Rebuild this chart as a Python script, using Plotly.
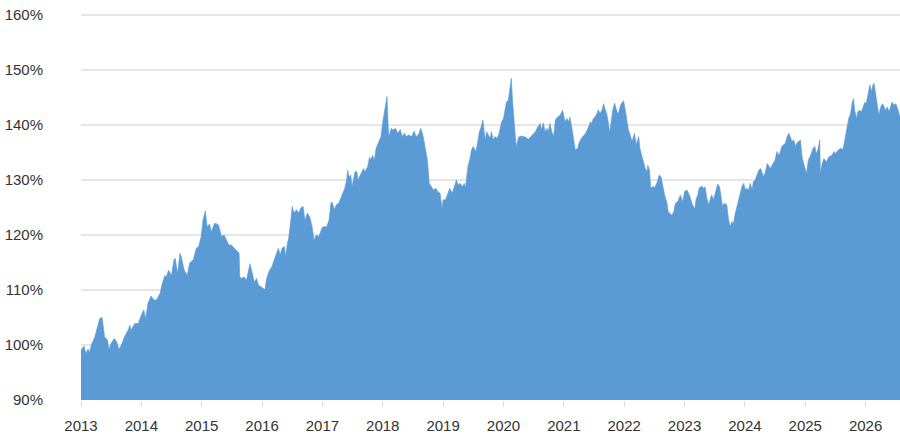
import plotly.graph_objects as go

# Decimal-year positions and index values (%)
years = [
    2013.00, 2013.05, 2013.08, 2013.12, 2013.14, 2013.17, 2013.23, 2013.27, 2013.31, 2013.35,
    2013.36, 2013.39, 2013.44, 2013.46, 2013.50, 2013.55, 2013.59, 2013.63, 2013.67, 2013.72,
    2013.78, 2013.81, 2013.83, 2013.89, 2013.95, 2013.99, 2014.04, 2014.07, 2014.11, 2014.16,
    2014.21, 2014.25, 2014.31, 2014.34, 2014.39, 2014.41, 2014.45, 2014.50, 2014.54, 2014.56,
    2014.60, 2014.64, 2014.66, 2014.71, 2014.76, 2014.80, 2014.86, 2014.91, 2014.95, 2014.99,
    2015.01, 2015.02, 2015.06, 2015.09, 2015.13, 2015.16, 2015.21, 2015.24, 2015.28, 2015.33,
    2015.37, 2015.41, 2015.45, 2015.49, 2015.54, 2015.58, 2015.62, 2015.63, 2015.66, 2015.70,
    2015.74, 2015.77, 2015.80, 2015.84, 2015.87, 2015.91, 2015.94, 2015.98, 2016.02, 2016.05,
    2016.07, 2016.11, 2016.16, 2016.20, 2016.24, 2016.27, 2016.30, 2016.33, 2016.37, 2016.39,
    2016.42, 2016.44, 2016.48, 2016.50, 2016.53, 2016.57, 2016.61, 2016.64, 2016.68, 2016.71,
    2016.75, 2016.79, 2016.83, 2016.86, 2016.90, 2016.94, 2016.99, 2017.01, 2017.07, 2017.11,
    2017.14, 2017.16, 2017.20, 2017.23, 2017.27, 2017.32, 2017.34, 2017.37, 2017.40, 2017.42,
    2017.44, 2017.47, 2017.49, 2017.54, 2017.57, 2017.59, 2017.64, 2017.68, 2017.70, 2017.75,
    2017.78, 2017.80, 2017.83, 2017.86, 2017.89, 2017.91, 2017.94, 2017.97, 2018.00, 2018.02,
    2018.05, 2018.07, 2018.09, 2018.10, 2018.14, 2018.17, 2018.21, 2018.25, 2018.29, 2018.32,
    2018.36, 2018.39, 2018.43, 2018.48, 2018.52, 2018.55, 2018.59, 2018.63, 2018.67, 2018.71,
    2018.74, 2018.77, 2018.80, 2018.84, 2018.88, 2018.91, 2018.95, 2018.98, 2019.00, 2019.04,
    2019.08, 2019.11, 2019.15, 2019.20, 2019.22, 2019.25, 2019.28, 2019.32, 2019.35, 2019.37,
    2019.41, 2019.45, 2019.47, 2019.50, 2019.54, 2019.57, 2019.60, 2019.63, 2019.66, 2019.68,
    2019.70, 2019.72, 2019.75, 2019.78, 2019.80, 2019.83, 2019.86, 2019.89, 2019.92, 2019.94,
    2019.97, 2020.00, 2020.03, 2020.05, 2020.08, 2020.11, 2020.13, 2020.15, 2020.17, 2020.19,
    2020.21, 2020.25, 2020.29, 2020.33, 2020.37, 2020.41, 2020.46, 2020.50, 2020.53, 2020.57,
    2020.61, 2020.63, 2020.66, 2020.69, 2020.72, 2020.74, 2020.77, 2020.80, 2020.83, 2020.86,
    2020.90, 2020.94, 2020.98, 2021.02, 2021.05, 2021.08, 2021.10, 2021.13, 2021.16, 2021.19,
    2021.23, 2021.25, 2021.29, 2021.33, 2021.36, 2021.40, 2021.44, 2021.46, 2021.49, 2021.52,
    2021.55, 2021.57, 2021.60, 2021.63, 2021.66, 2021.68, 2021.71, 2021.74, 2021.76, 2021.78,
    2021.81, 2021.84, 2021.86, 2021.89, 2021.91, 2021.94, 2021.97, 2021.99, 2022.02, 2022.04,
    2022.07, 2022.10, 2022.13, 2022.17, 2022.20, 2022.24, 2022.26, 2022.29, 2022.32, 2022.35,
    2022.38, 2022.39, 2022.42, 2022.44, 2022.47, 2022.51, 2022.55, 2022.58, 2022.61, 2022.64,
    2022.67, 2022.71, 2022.73, 2022.76, 2022.79, 2022.82, 2022.85, 2022.89, 2022.93, 2022.97,
    2023.00, 2023.04, 2023.07, 2023.09, 2023.13, 2023.17, 2023.19, 2023.22, 2023.24, 2023.28,
    2023.32, 2023.34, 2023.37, 2023.40, 2023.43, 2023.45, 2023.48, 2023.51, 2023.55, 2023.58,
    2023.61, 2023.63, 2023.66, 2023.70, 2023.73, 2023.76, 2023.78, 2023.81, 2023.84, 2023.87,
    2023.90, 2023.92, 2023.95, 2023.98, 2024.01, 2024.03, 2024.06, 2024.09, 2024.12, 2024.14,
    2024.17, 2024.20, 2024.23, 2024.26, 2024.28, 2024.31, 2024.34, 2024.37, 2024.39, 2024.42,
    2024.45, 2024.48, 2024.50, 2024.53, 2024.56, 2024.59, 2024.61, 2024.64, 2024.67, 2024.70,
    2024.73, 2024.75, 2024.78, 2024.81, 2024.84, 2024.86, 2024.89, 2024.92, 2024.95, 2025.00,
    2025.02, 2025.05, 2025.09, 2025.13, 2025.16, 2025.18, 2025.21, 2025.24, 2025.25, 2025.28,
    2025.31, 2025.35, 2025.39, 2025.44, 2025.48, 2025.50, 2025.55, 2025.59, 2025.62, 2025.64,
    2025.67, 2025.70, 2025.72, 2025.75, 2025.78, 2025.80, 2025.82, 2025.85, 2025.87, 2025.90,
    2025.93, 2025.96, 2025.99, 2026.01, 2026.04, 2026.07, 2026.10, 2026.12, 2026.14, 2026.17,
    2026.20, 2026.22, 2026.25, 2026.28, 2026.31, 2026.33, 2026.36, 2026.39, 2026.42, 2026.44,
    2026.47, 2026.50, 2026.53, 2026.55, 2026.57,
]

values = [
    99.1, 99.8, 98.5, 99.3, 98.5, 100.0, 101.5, 103.3, 104.8, 105.0,
    104.0, 101.5, 100.9, 99.2, 100.3, 101.2, 100.6, 99.2, 100.0, 101.5,
    102.7, 103.6, 102.7, 103.9, 103.9, 105.2, 106.4, 104.8, 107.6, 108.9,
    108.2, 108.2, 109.4, 110.9, 112.7, 112.3, 113.6, 112.7, 115.5, 115.8,
    113.0, 116.7, 116.1, 113.6, 112.7, 114.9, 115.5, 117.6, 117.9, 119.7,
    121.5, 122.7, 124.4, 121.5, 122.0, 120.6, 122.1, 122.1, 121.8, 119.7,
    120.0, 119.1, 118.2, 118.2, 117.6, 117.3, 116.7, 112.4, 112.1, 112.4,
    111.8, 113.3, 114.8, 113.0, 111.5, 112.1, 110.9, 110.6, 110.3, 110.1,
    111.8, 113.3, 114.2, 115.5, 117.0, 117.6, 116.4, 117.6, 117.9, 116.1,
    118.5, 119.4, 123.0, 125.2, 124.0, 124.6, 124.0, 124.9, 125.2, 122.7,
    124.0, 123.3, 121.5, 119.1, 120.0, 119.7, 121.2, 121.5, 121.5, 122.7,
    125.8, 126.0, 124.6, 125.5, 125.8, 127.3, 127.6, 128.5, 130.0, 131.8,
    130.6, 130.9, 128.8, 131.5, 131.5, 130.0, 131.2, 132.1, 131.5, 132.4,
    134.2, 133.6, 134.5, 133.6, 135.8, 136.4, 137.3, 137.9, 140.6, 142.1,
    144.5, 145.2, 139.7, 137.9, 139.4, 139.1, 139.4, 138.5, 139.2, 137.9,
    138.5, 137.9, 138.2, 137.9, 138.9, 137.9, 138.2, 139.4, 137.9, 135.8,
    133.6, 129.4, 128.8, 128.2, 128.5, 127.9, 127.6, 124.8, 126.4, 126.4,
    127.6, 128.5, 127.6, 129.1, 130.0, 129.1, 129.4, 128.8, 129.4, 128.5,
    132.4, 134.2, 135.5, 136.1, 135.2, 136.7, 138.8, 139.7, 140.9, 138.8,
    137.3, 138.8, 138.2, 137.6, 138.8, 137.3, 137.9, 137.6, 138.2, 139.1,
    140.6, 141.2, 143.3, 144.2, 144.5, 147.0, 148.5, 144.5, 141.5, 138.5,
    136.1, 137.8, 138.0, 137.9, 137.8, 137.4, 138.0, 138.5, 138.8, 139.7,
    140.3, 139.1, 140.4, 138.8, 139.4, 138.8, 140.3, 138.8, 137.9, 140.9,
    141.5, 141.8, 142.7, 140.6, 141.2, 140.6, 141.5, 139.7, 137.3, 135.5,
    135.8, 136.7, 137.6, 138.2, 138.5, 139.4, 140.6, 140.3, 141.2, 141.5,
    142.1, 142.8, 142.1, 142.7, 143.9, 143.0, 142.1, 140.3, 138.5, 140.3,
    142.7, 144.0, 143.3, 142.1, 142.4, 143.6, 144.2, 144.4, 142.7, 141.2,
    139.1, 138.2, 137.0, 138.5, 136.4, 137.9, 135.8, 134.5, 133.3, 132.1,
    131.5, 132.7, 131.8, 128.5, 128.8, 128.7, 129.7, 130.9, 130.6, 128.8,
    127.3, 125.8, 124.2, 123.9, 123.6, 124.2, 125.8, 126.1, 127.3, 126.1,
    127.9, 128.2, 127.6, 127.0, 125.5, 124.8, 126.4, 127.3, 128.5, 128.9,
    128.5, 128.8, 126.7, 125.5, 126.7, 127.3, 126.4, 127.6, 129.3, 128.8,
    126.7, 125.2, 125.8, 125.5, 122.7, 121.5, 122.4, 122.1, 123.9, 125.2,
    126.4, 127.6, 128.8, 129.4, 128.2, 128.5, 128.2, 129.4, 128.2, 129.7,
    130.0, 130.9, 131.8, 132.1, 131.5, 130.6, 131.5, 133.0, 132.7, 132.1,
    132.7, 133.3, 133.6, 135.2, 134.5, 135.2, 136.1, 136.4, 136.7, 137.9,
    138.5, 137.9, 137.0, 137.3, 136.1, 136.7, 137.0, 137.3, 134.0, 132.1,
    131.2, 133.6, 134.5, 135.8, 136.1, 134.8, 135.5, 137.3, 131.2, 133.0,
    133.9, 133.3, 134.2, 134.5, 135.2, 134.8, 135.5, 135.8, 135.5, 136.4,
    137.9, 140.0, 141.2, 142.1, 144.2, 144.8, 142.7, 141.2, 142.4, 142.7,
    142.4, 143.3, 144.2, 143.9, 145.5, 147.3, 146.1, 147.3, 147.6, 145.2,
    143.3, 141.8, 143.3, 143.9, 143.3, 142.7, 143.3, 142.4, 143.6, 144.2,
    143.6, 143.9, 143.0, 142.1, 141.5,
]

year_ticks = list(range(2013, 2027))
year_labels = [str(y) for y in year_ticks]
pct_ticks = [90, 100, 110, 120, 130, 140, 150, 160]
pct_labels = [f"{v}%" for v in pct_ticks]

fill_color = "#5b9bd5"

fig = go.Figure(
    go.Scatter(
        x=years,
        y=values,
        mode="lines",
        line=dict(color=fill_color, width=0.6),
        fill="tozeroy",
        fillcolor=fill_color,
        hoverinfo="skip",
    )
)

fig.update_layout(
    width=900,
    height=437,
    margin=dict(l=81, r=0, t=14, b=37),
    paper_bgcolor="white",
    plot_bgcolor="white",
    showlegend=False,
    font=dict(family="Liberation Sans, Arial, sans-serif", size=15, color="#333333"),
)

fig.update_xaxes(
    range=[2013, 2026.57],
    tickmode="array",
    tickvals=year_ticks,
    ticktext=year_labels,
    ticks="outside",
    ticklen=6,
    tickcolor="#dddddd",
    tickwidth=1,
    ticklabelstandoff=6,
    showgrid=False,
    showline=False,
    zeroline=False,
    tickfont=dict(size=15, color="#333333"),
)

fig.update_yaxes(
    range=[90, 160.2],
    tickmode="array",
    tickvals=pct_ticks,
    ticktext=pct_labels,
    showgrid=True,
    gridcolor="#e6e6e6",
    gridwidth=1.5,
    zeroline=False,
    showline=False,
    ticks="",
    ticklabelstandoff=37,
    tickfont=dict(size=15, color="#333333"),
)

fig.write_html(
    "out.html",
    config={"displayModeBar": False},
    post_script="document.body.style.margin='0';document.body.style.overflow='hidden';",
)
